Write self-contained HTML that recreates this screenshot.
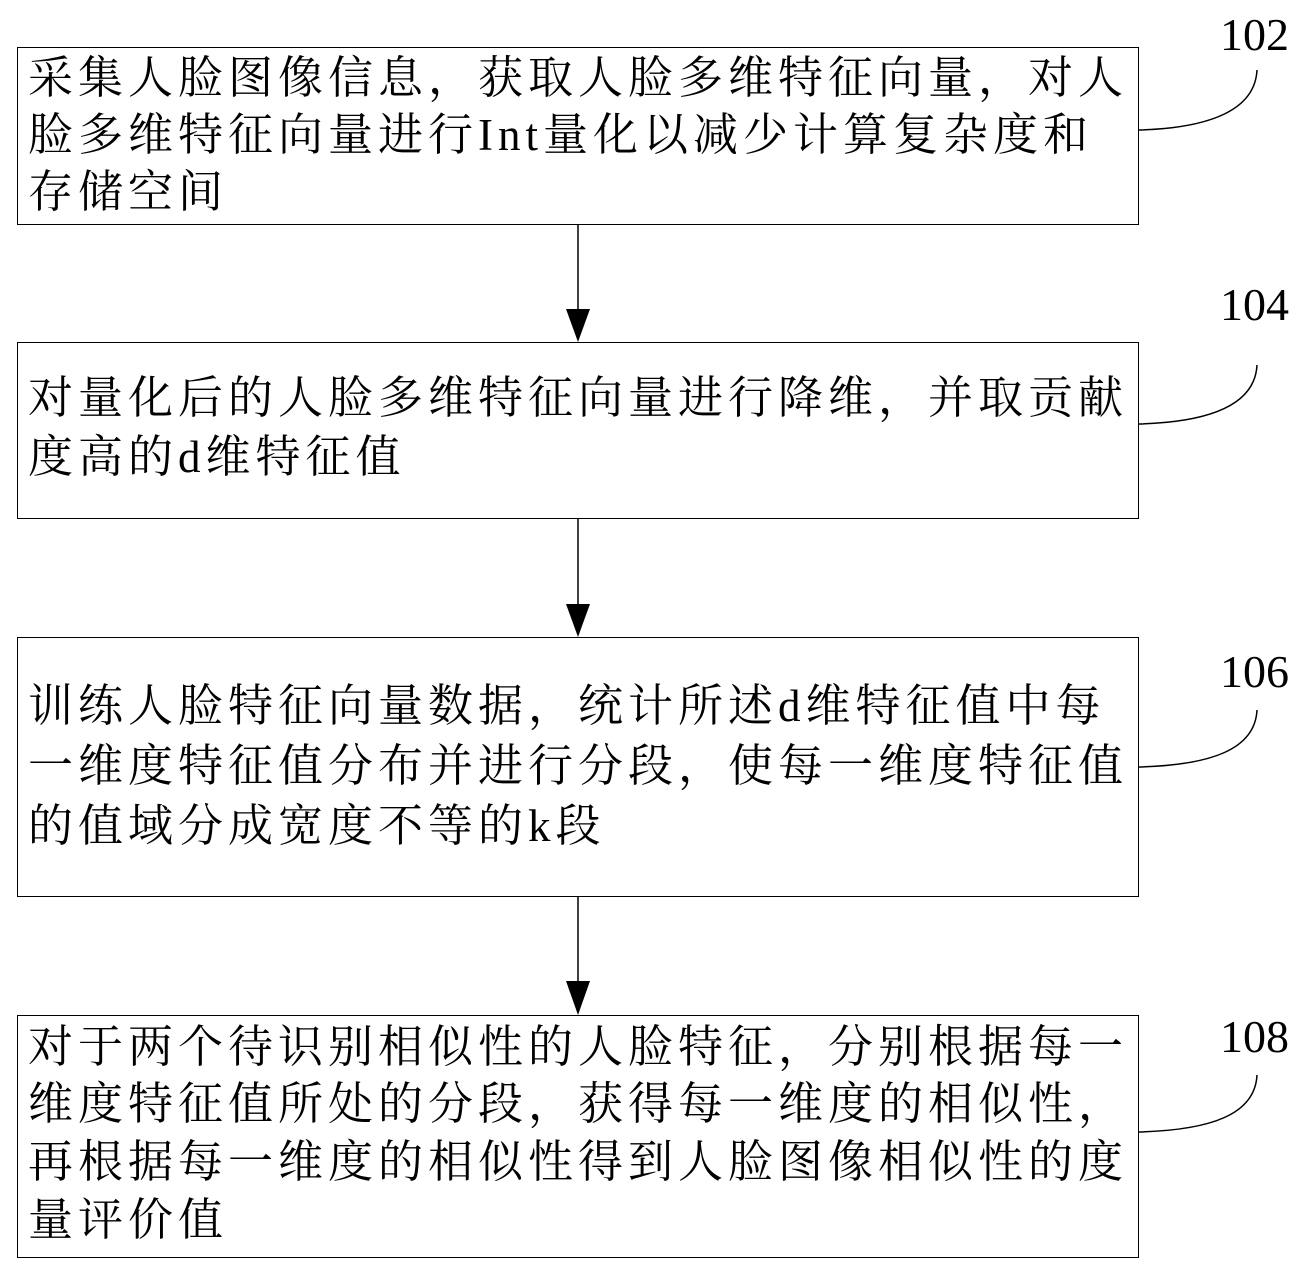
<!DOCTYPE html>
<html><head><meta charset="utf-8"><style>
body{margin:0;width:1308px;height:1271px;background:#fff;position:relative;overflow:hidden}
.b{position:absolute;border:1.5px solid #000;box-sizing:border-box}
.t{position:absolute;left:28px;font-family:"Liberation Serif","Noto Serif CJK SC",serif;font-size:45px;letter-spacing:5px;line-height:58px;white-space:nowrap;color:#000}
.n{position:absolute;font-family:"Liberation Serif",serif;font-size:46px;color:#000}
svg{position:absolute;left:0;top:0}
</style></head><body>
<div class="b" style="left:17px;top:47px;width:1122px;height:178px"></div>
<div class="b" style="left:17px;top:342px;width:1122px;height:177px"></div>
<div class="b" style="left:17px;top:637px;width:1122px;height:260px"></div>
<div class="b" style="left:17px;top:1015px;width:1122px;height:243px"></div>

<div class="t" style="top:49px">采集人脸图像信息，获取人脸多维特征向量，对人</div>
<div class="t" style="top:106px">脸多维特征向量进行Int量化以减少计算复杂度和</div>
<div class="t" style="top:163px">存储空间</div>

<div class="t" style="top:369px">对量化后的人脸多维特征向量进行降维，并取贡献</div>
<div class="t" style="top:428px">度高的d维特征值</div>

<div class="t" style="top:677px">训练人脸特征向量数据，统计所述d维特征值中每</div>
<div class="t" style="top:737px">一维度特征值分布并进行分段，使每一维度特征值</div>
<div class="t" style="top:797px">的值域分成宽度不等的k段</div>

<div class="t" style="top:1018px">对于两个待识别相似性的人脸特征，分别根据每一</div>
<div class="t" style="top:1075px">维度特征值所处的分段，获得每一维度的相似性，</div>
<div class="t" style="top:1133px">再根据每一维度的相似性得到人脸图像相似性的度</div>
<div class="t" style="top:1191px">量评价值</div>

<div class="n" style="left:1220px;top:8px">102</div>
<div class="n" style="left:1220px;top:278px">104</div>
<div class="n" style="left:1220px;top:645px">106</div>
<div class="n" style="left:1220px;top:1010px">108</div>

<svg width="1308" height="1271">
<g stroke="#000" stroke-width="1.5" fill="none">
<line x1="578" y1="225" x2="578" y2="312"/>
<line x1="578" y1="519" x2="578" y2="607"/>
<line x1="578" y1="897" x2="578" y2="982"/>
<path d="M1139 130 C1210 128 1255 110 1257 70"/>
<path d="M1139 424 C1210 422 1255 405 1257 365"/>
<path d="M1139 767 C1210 765 1255 750 1257 710"/>
<path d="M1139 1132 C1210 1130 1255 1115 1257 1075"/>
</g>
<g fill="#000">
<polygon points="566,309 590,309 578,342"/>
<polygon points="566,604 590,604 578,637"/>
<polygon points="566,981 590,981 578,1015"/>
</g>
</svg>
</body></html>
